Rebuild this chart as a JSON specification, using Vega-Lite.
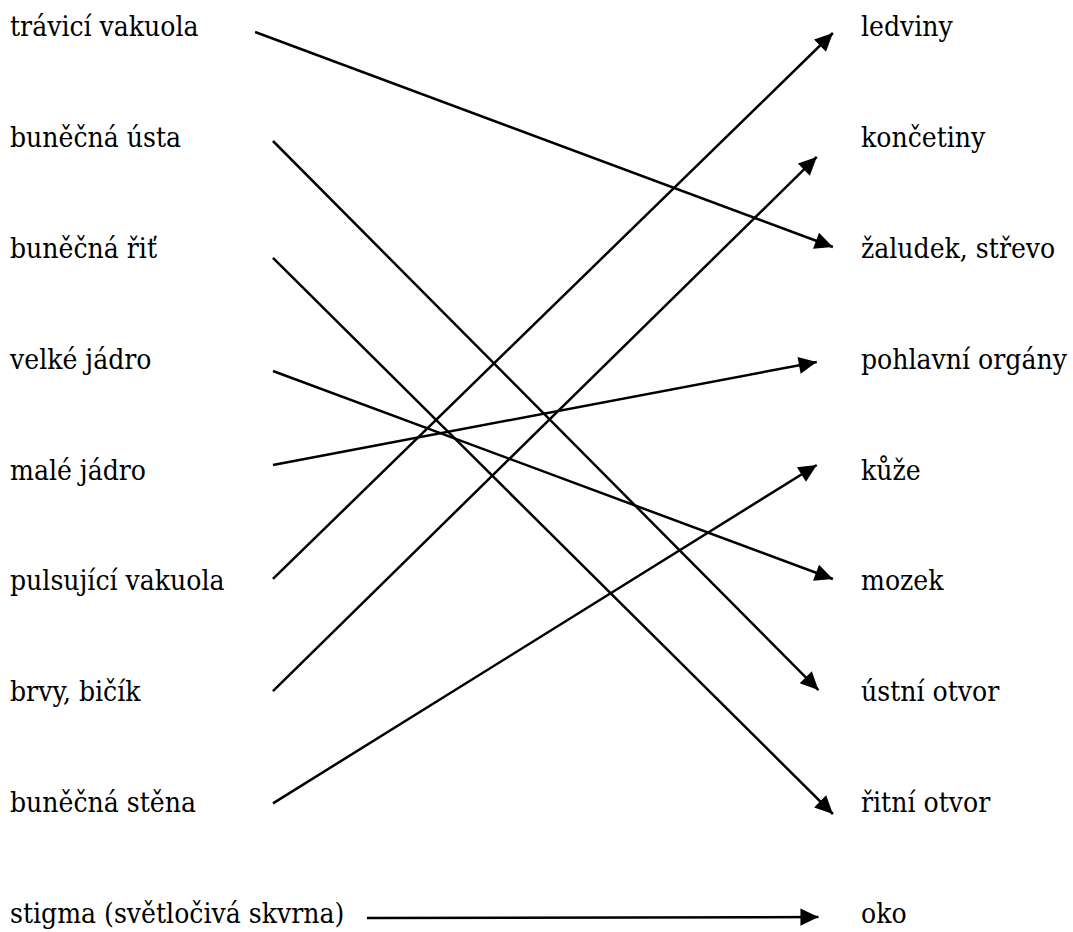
{
  "$schema": "https://vega.github.io/schema/vega-lite/v6.json",
  "width": 1073,
  "height": 932,
  "padding": 0,
  "autosize": {"type": "none"},
  "background": "white",
  "config": {"view": {"stroke": null}},
  "data": {
    "values": [
      {"left": "trávicí vakuola", "lrow": 0, "right": "žaludek, střevo", "rrow": 2, "x1": 28.8, "y1": -0.036, "x2": 96.7, "y2": 1.903},
      {"left": "buněčná ústa", "lrow": 1, "right": "ústní otvor", "rrow": 6, "x1": 30.9, "y1": 0.947, "x2": 95.0, "y2": 5.899},
      {"left": "buněčná řiť", "lrow": 2, "right": "řitní otvor", "rrow": 7, "x1": 30.9, "y1": 2.002, "x2": 96.7, "y2": 7.017},
      {"left": "velké jádro", "lrow": 3, "right": "mozek", "rrow": 5, "x1": 30.9, "y1": 3.021, "x2": 96.7, "y2": 4.897},
      {"left": "malé jádro", "lrow": 4, "right": "pohlavní orgány", "rrow": 3, "x1": 30.9, "y1": 3.869, "x2": 94.8, "y2": 2.94},
      {"left": "pulsující vakuola", "lrow": 5, "right": "ledviny", "rrow": 0, "x1": 30.9, "y1": 4.897, "x2": 96.7, "y2": -0.027},
      {"left": "brvy, bičík", "lrow": 6, "right": "končetiny", "rrow": 1, "x1": 30.9, "y1": 5.908, "x2": 94.8, "y2": 1.091},
      {"left": "buněčná stěna", "lrow": 7, "right": "kůže", "rrow": 4, "x1": 30.9, "y1": 6.921, "x2": 94.8, "y2": 3.869},
      {"left": "stigma (světločivá skvrna)", "lrow": 8, "right": "oko", "rrow": 8, "x1": 41.95, "y1": 7.955, "x2": 95.0, "y2": 7.947}
    ]
  },
  "transform": [
    {"calculate": "atan2((datum.y2 - datum.y1) * 110.875, (datum.x2 - datum.x1) * 8.51) * 180 / PI", "as": "heading"}
  ],
  "layer": [
    {
      "mark": {"type": "text", "align": "left", "baseline": "alphabetic", "font": "DejaVu Serif Condensed, DejaVu Serif", "fontSize": 28, "fill": "black"},
      "encoding": {
        "x": {"datum": 0, "type": "quantitative", "scale": {"domain": [0, 100], "range": [10, 861], "nice": false, "zero": false}, "axis": null},
        "y": {"field": "lrow", "type": "quantitative", "scale": {"domain": [0, 8], "range": [36, 923], "nice": false, "zero": false}, "axis": null},
        "text": {"field": "left"}
      }
    },
    {
      "mark": {"type": "text", "align": "left", "baseline": "alphabetic", "font": "DejaVu Serif Condensed, DejaVu Serif", "fontSize": 28, "fill": "black"},
      "encoding": {
        "x": {"datum": 100, "type": "quantitative"},
        "y": {"field": "rrow", "type": "quantitative"},
        "text": {"field": "right"}
      }
    },
    {
      "mark": {"type": "rule", "color": "black", "strokeWidth": 2.5},
      "encoding": {
        "x": {"field": "x1", "type": "quantitative"},
        "y": {"field": "y1", "type": "quantitative"},
        "x2": {"field": "x2"},
        "y2": {"field": "y2"}
      }
    },
    {
      "mark": {"type": "point", "shape": "M0,0L-2,-0.95L-2,0.95Z", "filled": true, "color": "black", "opacity": 1, "size": 324, "strokeWidth": 0},
      "encoding": {
        "x": {"field": "x2", "type": "quantitative"},
        "y": {"field": "y2", "type": "quantitative"},
        "angle": {"field": "heading", "type": "quantitative", "scale": null}
      }
    }
  ]
}
